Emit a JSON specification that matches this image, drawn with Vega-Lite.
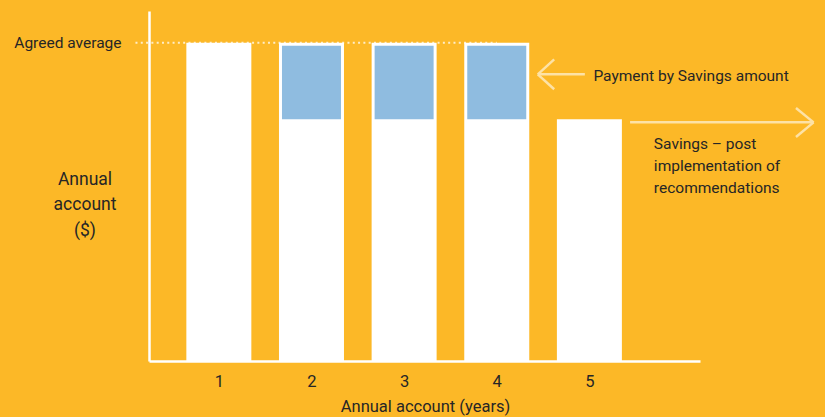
{
  "$schema": "https://vega.github.io/schema/vega-lite/v6.json",
  "autosize": "none",
  "width": 551,
  "height": 350,
  "padding": {"left": 149, "top": 11, "right": 125, "bottom": 56},
  "background": "#FCB827",
  "config": {
    "view": {"stroke": null},
    "font": "Roboto, sans-serif",
    "axis": {"grid": false, "ticks": false, "tickSize": 0, "domainColor": "#ffffff", "domainWidth": 2.5, "labelColor": "#262626", "titleColor": "#262626", "labelFontWeight": "normal", "titleFontWeight": "normal"}
  },
  "datasets": {
    "accounts": [
      {"year": 1, "account": 100, "base": null},
      {"year": 2, "account": 100, "base": 76},
      {"year": 3, "account": 100, "base": 76},
      {"year": 4, "account": 100, "base": 76},
      {"year": 5, "account": 76, "base": null}
    ],
    "agreed": [{"x": 0.1, "x2": 4.0, "level": 100}],
    "arrows": [
      {"x": 4.443, "y": 90.1, "x2": 4.951, "y2": 90.1},
      {"x": 4.443, "y": 90.1, "x2": 4.62, "y2": 94.8},
      {"x": 4.443, "y": 90.1, "x2": 4.62, "y2": 85.4},
      {"x": 5.439, "y": 75.0, "x2": 7.42, "y2": 75.0},
      {"x": 7.42, "y": 75.0, "x2": 7.23, "y2": 79.5},
      {"x": 7.42, "y": 75.0, "x2": 7.23, "y2": 70.4}
    ],
    "notes": [
      {"x": 5.043, "y": 87.9, "label": "Payment by Savings amount"},
      {"x": 5.696, "y": 66.6, "label": "Savings – post\nimplementation of\nrecommendations"}
    ]
  },
  "encoding": {
    "x": {
      "type": "quantitative",
      "scale": {"domain": [0.3, 6.14], "nice": false, "zero": false},
      "axis": {
        "values": [1, 2, 3, 4, 5],
        "format": "d",
        "labelFontSize": 16.5,
        "labelBaseline": "alphabetic",
        "labelPadding": 25.5,
        "title": "Annual account (years)",
        "titleFontSize": 16.5,
        "titleAlign": "center",
        "titleBaseline": "alphabetic",
        "titleX": 276,
        "titleY": 50.7
      }
    },
    "y": {
      "type": "quantitative",
      "scale": {"domain": [0, 110], "nice": false},
      "axis": {
        "values": [100],
        "labelExpr": "'Agreed average'",
        "labelFontSize": 15.5,
        "labelAlign": "right",
        "labelBaseline": "middle",
        "labelPadding": 28,
        "title": ["Annual", "account", "($)"],
        "titleFontSize": 17.5,
        "titleAngle": 0,
        "titleAlign": "center",
        "titleBaseline": "alphabetic",
        "titleLineHeight": 25.5,
        "titleX": -64.5,
        "titleY": 173.3
      }
    }
  },
  "layer": [
    {
      "data": {"name": "agreed"},
      "mark": {"type": "rule", "color": "#ffffff", "opacity": 0.75, "strokeWidth": 2, "strokeDash": [2, 3.3]},
      "encoding": {
        "x": {"field": "x"},
        "x2": {"field": "x2"},
        "y": {"field": "level"}
      }
    },
    {
      "data": {"name": "accounts"},
      "mark": {"type": "bar", "color": "#ffffff", "size": 65},
      "encoding": {
        "x": {"field": "year"},
        "y": {"field": "account"}
      }
    },
    {
      "data": {"name": "accounts"},
      "transform": [{"filter": "datum.base != null"}],
      "mark": {"type": "bar", "color": "#8FBCE0", "size": 59, "yOffset": 3},
      "encoding": {
        "x": {"field": "year"},
        "y": {"field": "account"},
        "y2": {"field": "base"}
      }
    },
    {
      "data": {"name": "arrows"},
      "mark": {"type": "rule", "color": "#FDE2A6", "strokeWidth": 2.5},
      "encoding": {
        "x": {"field": "x"},
        "x2": {"field": "x2"},
        "y": {"field": "y"},
        "y2": {"field": "y2"}
      }
    },
    {
      "data": {"name": "notes"},
      "mark": {"type": "text", "align": "left", "baseline": "alphabetic", "fontSize": 15.5, "lineHeight": 22, "lineBreak": "\n", "color": "#262626"},
      "encoding": {
        "x": {"field": "x"},
        "y": {"field": "y"},
        "text": {"field": "label"}
      }
    }
  ]
}
